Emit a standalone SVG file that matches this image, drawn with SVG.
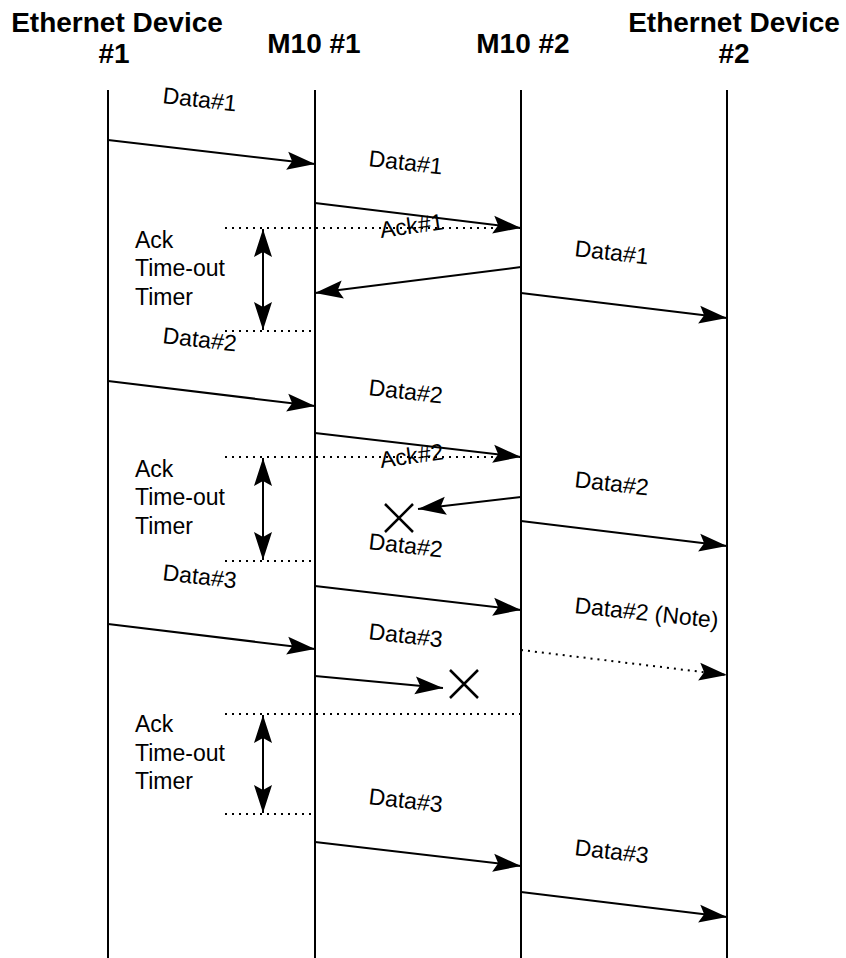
<svg xmlns="http://www.w3.org/2000/svg" width="846" height="958" viewBox="0 0 846 958">
<style>
.title{font-family:"Liberation Sans",Arial,sans-serif;font-weight:bold;font-size:28px;fill:#000;text-anchor:middle}
.lbl{font-family:"Liberation Sans",Arial,sans-serif;font-size:23px;fill:#000}
.life{stroke:#000;stroke-width:2;fill:none}
.msg{stroke:#000;stroke-width:2;fill:none;marker-end:url(#ah)}
.dmsg{stroke:#000;stroke-width:2;fill:none;stroke-dasharray:2 5;marker-end:url(#ah)}
.dot{stroke:#000;stroke-width:2;fill:none;stroke-dasharray:2 5}
.dbl{stroke:#000;stroke-width:2;fill:none;marker-start:url(#ah);marker-end:url(#ah)}
.x{stroke:#000;stroke-width:2.5;fill:none}
</style>
<defs>
<marker id="ah" markerUnits="userSpaceOnUse" markerWidth="30" markerHeight="20" viewBox="0 0 30 20" refX="28" refY="10" orient="auto-start-reverse">
<path d="M0,1 L28,10 L0,19 L5,10 Z" fill="#000"/>
</marker>
</defs>
<g id="ed1"><text class="title" x="117" y="32">Ethernet Device</text><text class="title" x="114" y="63">#1</text></g>
<g id="m10_1"><text class="title" x="314" y="53" font-size="30">M10 #1</text></g>
<g id="m10_2"><text class="title" x="523" y="53" font-size="30">M10 #2</text></g>
<g id="ed2"><text class="title" x="734" y="32">Ethernet Device</text><text class="title" x="734" y="63">#2</text></g>
<g id="lifelines">
<line class="life" x1="108" y1="90" x2="108" y2="958"/>
<line class="life" x1="315" y1="90" x2="315" y2="958"/>
<line class="life" x1="521" y1="90" x2="521" y2="958"/>
<line class="life" x1="727" y1="90" x2="727" y2="958"/>
</g>
<g id="connectors">
<line class="msg" x1="108" y1="140" x2="315" y2="164"/>
<line class="msg" x1="315" y1="203" x2="521" y2="228"/>
<line class="msg" x1="521" y1="267" x2="315" y2="293"/>
<line class="msg" x1="521" y1="293" x2="727" y2="318"/>
<line class="msg" x1="108" y1="381" x2="315" y2="406"/>
<line class="msg" x1="315" y1="433" x2="521" y2="457"/>
<line class="msg" x1="521" y1="497" x2="418" y2="509"/>
<line class="msg" x1="521" y1="521" x2="727" y2="546"/>
<line class="msg" x1="315" y1="586" x2="521" y2="610"/>
<line class="msg" x1="108" y1="624" x2="315" y2="649"/>
<line class="msg" x1="315" y1="676" x2="443" y2="688"/>
<line class="dmsg" x1="521" y1="650" x2="727" y2="675"/>
<line class="msg" x1="315" y1="842" x2="521" y2="866"/>
<line class="msg" x1="521" y1="892" x2="727" y2="917"/>
</g>
<g id="timer1">
<line class="dot" x1="225" y1="228" x2="521" y2="228"/>
<line class="dot" x1="225" y1="331" x2="315" y2="331"/>
<line class="dbl" x1="263" y1="229" x2="263" y2="330"/>
<text class="lbl" x="135" y="248">Ack</text>
<text class="lbl" x="135" y="276">Time-out</text>
<text class="lbl" x="135" y="305">Timer</text>
</g>
<g id="timer2">
<line class="dot" x1="225" y1="457" x2="521" y2="457"/>
<line class="dot" x1="225" y1="561" x2="315" y2="561"/>
<line class="dbl" x1="263" y1="458" x2="263" y2="560"/>
<text class="lbl" x="135" y="477">Ack</text>
<text class="lbl" x="135" y="505">Time-out</text>
<text class="lbl" x="135" y="534">Timer</text>
</g>
<g id="timer3">
<line class="dot" x1="225" y1="714" x2="521" y2="714"/>
<line class="dot" x1="225" y1="814" x2="315" y2="814"/>
<line class="dbl" x1="263" y1="715" x2="263" y2="813"/>
<text class="lbl" x="135" y="732">Ack</text>
<text class="lbl" x="135" y="761">Time-out</text>
<text class="lbl" x="135" y="789">Timer</text>
</g>
<g id="lost1"><path class="x" d="M385,504 L413,532 M413,504 L385,532"/></g>
<g id="lost2"><path class="x" d="M450,670 L478,698 M478,670 L450,698"/></g>
<g id="labels">
<text class="lbl" x="162" y="103" transform="rotate(6.5 162 103)">Data#1</text>
<text class="lbl" x="368" y="166" transform="rotate(6.5 368 166)">Data#1</text>
<text class="lbl" x="381" y="238" font-size="22" transform="rotate(-8 381 238)">Ack#1</text>
<text class="lbl" x="574" y="256" transform="rotate(6.5 574 256)">Data#1</text>
<text class="lbl" x="162" y="343" transform="rotate(6.5 162 343)">Data#2</text>
<text class="lbl" x="368" y="395" transform="rotate(6.5 368 395)">Data#2</text>
<text class="lbl" x="381" y="468" font-size="22" transform="rotate(-8 381 468)">Ack#2</text>
<text class="lbl" x="574" y="487" transform="rotate(6.5 574 487)">Data#2</text>
<text class="lbl" x="368" y="549" transform="rotate(6.5 368 549)">Data#2</text>
<text class="lbl" x="162" y="580" transform="rotate(6.5 162 580)">Data#3</text>
<text class="lbl" x="574" y="613" transform="rotate(6 574 613)">Data#2 (Note)</text>
<text class="lbl" x="368" y="639" transform="rotate(6.5 368 639)">Data#3</text>
<text class="lbl" x="368" y="804" transform="rotate(6.5 368 804)">Data#3</text>
<text class="lbl" x="574" y="855" transform="rotate(6.5 574 855)">Data#3</text>
</g>
</svg>
